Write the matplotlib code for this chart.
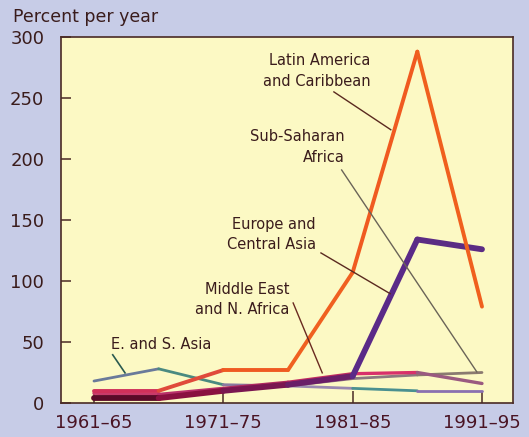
import matplotlib
matplotlib.use('Agg')
import matplotlib.pyplot as plt
import numpy as np

periods = ['1961–65', '1966–70', '1971–75', '1976–80', '1981–85', '1986–90', '1991–95']
tick_labels = ['1961–65', '1971–75', '1981–85', '1991–95']

latin_america = [10, 10, 27, 27, 107, 288, 79]
europe_central_asia = [4, 4, 10, 15, 22, 134, 126]
middle_east = [8, 7, 12, 17, 24, 25, 16]
sub_saharan = [5, 6, 11, 14, 20, 23, 25]
east_south_asia = [18, 28, 15, 14, 12, 10, 10]

TXT = '#3a1c1c'
SPINE = '#4a2a25'


def seg_line(ax, x, y, colors, lw):
    # draw a polyline segment by segment so the colour can drift along it
    for i in range(len(x) - 1):
        ax.plot(x[i:i + 2], y[i:i + 2], color=colors[i], lw=lw,
                solid_capstyle='round', solid_joinstyle='round')


def main():
    fig = plt.figure(figsize=(5.29, 4.37), dpi=100, facecolor='#c7cce7')
    ax = fig.add_axes([0.1153, 0.0778, 0.8545, 0.8375])
    ax.set_facecolor('#fcf9c4')

    x = np.arange(len(periods))

    seg_line(ax, x, east_south_asia,
             ['#6a7a9a', '#4a8a80', '#8a7aa0', '#9a88b0', '#4a9090', '#8a70b0'], 2.0)
    seg_line(ax, x, sub_saharan,
             ['#9a4a6a', '#8a4a70', '#7a5a7a', '#8a6a80', '#8a7a80', '#8a7a70'], 2.0)
    seg_line(ax, x, middle_east,
             ['#c83a6a', '#b8306a', '#b02a60', '#c02a60', '#d8306a', '#9a5a80'], 2.4)
    seg_line(ax, x, europe_central_asia,
             ['#5a0a28', '#8a1040', '#7a1650', '#6a1e68', '#5a2a88', '#5b2c84'], 4.2)
    seg_line(ax, x, latin_america,
             ['#d0305a', '#e04a3a', '#ef5a22', '#f06020', '#f05a20', '#f0601e'], 2.8)

    ax.set_xlim(-0.51, 6.48)
    ax.set_ylim(0, 300)
    ax.set_xticks([0, 2, 4, 6])
    ax.set_xticklabels(tick_labels)
    ax.set_yticks([0, 50, 100, 150, 200, 250, 300])

    ax.tick_params(axis='x', direction='in', length=9, width=1.1, color=SPINE,
                   labelsize=13, labelcolor='#4a1424', pad=8)
    ax.tick_params(axis='y', direction='in', length=7, width=1.1, color=SPINE,
                   labelsize=13, labelcolor=TXT, pad=12)
    for s in ax.spines.values():
        s.set_color(SPINE)
        s.set_linewidth(1.2)

    fig.text(0.025, 0.962, 'Percent per year', fontsize=12.5, color=TXT,
             ha='left', va='center')

    # labels and leader lines
    fs = 10.5
    ax.text(4.28, 272, 'Latin America\nand Caribbean', ha='right', va='center',
            fontsize=fs, color=TXT, linespacing=1.45)
    ax.plot([3.71, 4.59], [255, 224], color='#5a2a20', lw=1.0)

    ax.text(3.88, 210, 'Sub-Saharan\nAfrica', ha='right', va='center',
            fontsize=fs, color=TXT, linespacing=1.45)
    ax.plot([3.83, 5.92], [191, 25.5], color='#6a6458', lw=1.0)

    ax.text(3.43, 138, 'Europe and\nCentral Asia', ha='right', va='center',
            fontsize=fs, color=TXT, linespacing=1.45)
    ax.plot([3.51, 4.58], [123, 89.6], color='#5a2a20', lw=1.0)

    ax.text(3.02, 85, 'Middle East\nand N. Africa', ha='right', va='center',
            fontsize=fs, color=TXT, linespacing=1.45)
    ax.plot([3.08, 3.53], [82, 24.7], color='#6a2a20', lw=1.0)

    ax.text(1.04, 47.7, 'E. and S. Asia', ha='center', va='center',
            fontsize=fs, color=TXT)
    ax.plot([0.29, 0.48], [39.5, 24.7], color='#2a5a50', lw=1.2)

    fig.savefig('out.png', dpi=100, facecolor=fig.get_facecolor())


if __name__ == '__main__':
    main()
